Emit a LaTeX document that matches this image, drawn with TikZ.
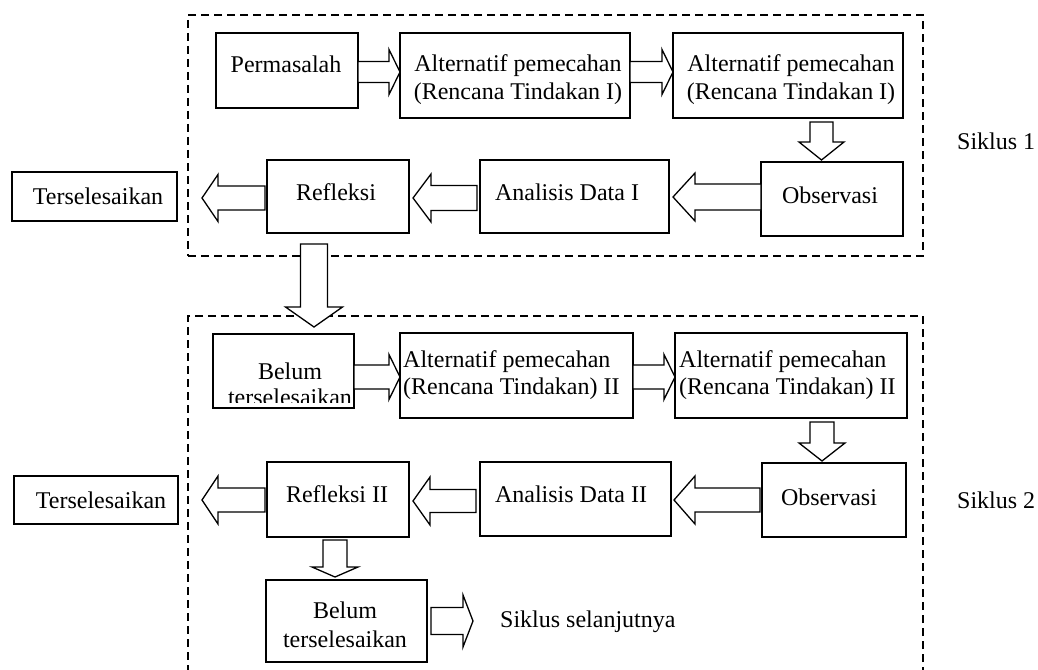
\documentclass[tikz,border=0pt]{standalone}
\usepackage{fontspec}
\setmainfont{Liberation Serif}
\usetikzlibrary{calc,fit}
\tikzset{
  box/.style={draw, line width=1.4pt, rectangle, inner sep=0pt, outer sep=0pt},
  dashbox/.style={draw, line width=1.3pt, dash pattern=on 8pt off 5pt, rectangle, inner sep=0pt},
  txt/.style={inner sep=0pt, font=\fontsize{24}{28}\selectfont},
  blockarr/.style={draw, line width=1.3pt, fill=white, line join=miter},
}
% #1 start, #2 tip, #3 shaft half width, #4 head half width, #5 head length
\newcommand\barrow[5]{%
  \path #1 coordinate (ba-s) #2 coordinate (ba-e);
  \coordinate (ba-h) at ($(ba-e)!#5!(ba-s)$);
  \draw[blockarr] ($(ba-s)!#3!90:(ba-e)$) -- ($(ba-h)!#3!-90:(ba-s)$) -- ($(ba-h)!#4!-90:(ba-s)$) -- (ba-e) -- ($(ba-h)!#4!90:(ba-s)$) -- ($(ba-h)!#3!90:(ba-s)$) -- ($(ba-s)!#3!-90:(ba-e)$) -- cycle;}
\begin{document}
\begin{tikzpicture}[x=1pt,y=-1pt]
\useasboundingbox (0,0) rectangle (1038,669);
\clip (0,0) rectangle (1038,669);
\fill[white] (0,0) rectangle (1038,669);
% cycle frames
\node[dashbox, fit={(188,15) (923,256)}] (cyc1) {};
\node[dashbox, fit={(188,316) (923,720)}] (cyc2) {};
% cycle 1 boxes
\node[box, fit={(216,33) (358,108)}] (perm) {};
\node[box, fit={(400,33) (630,118)}] (alt1) {};
\node[box, fit={(673,33) (903,118)}] (alt2) {};
\node[box, fit={(761,162) (903,236)}] (obs1) {};
\node[box, fit={(480,160) (669,233)}] (ana1) {};
\node[box, fit={(267,160) (409,233)}] (ref1) {};
\node[box, fit={(12,172) (177,221)}] (ters1) {};
% cycle 2 boxes
\node[box, fit={(213,334) (354,408)}] (belum1) {};
\node[box, fit={(400,333) (633,418)}] (alt1b) {};
\node[box, fit={(675,333) (907,418)}] (alt2b) {};
\node[box, fit={(762,463) (906,537)}] (obs2) {};
\node[box, fit={(480,462) (671,536)}] (ana2) {};
\node[box, fit={(267,462) (409,537)}] (ref2) {};
\node[box, fit={(14,476) (178,524)}] (ters2) {};
\node[box, fit={(266,580) (427,662)}] (belum2) {};
\coordinate (nextc) at (473,621);
% arrows cycle 1
\barrow{($(perm.east)+(0,1.5)$)}{($(alt1.west)+(0,-3.5)$)}{10.5pt}{22.5pt}{11pt}
\barrow{($(alt1.east)+(0,-3.5)$)}{($(alt2.west)+(0,-3.5)$)}{10.5pt}{22.5pt}{11pt}
\barrow{($(alt2.south)+(33.5,4)$)}{($(obs1.north)+(-10.5,-2)$)}{11.5pt}{22.5pt}{18pt}
\barrow{($(obs1.west)+(0,-2)$)}{($(ana1.east)+(4,0.5)$)}{13pt}{24pt}{22pt}
\barrow{($(ana1.west)+(-3,1.5)$)}{($(ref1.east)+(4,1.5)$)}{12.5pt}{24pt}{18pt}
\barrow{($(ref1.west)+(-2,1.5)$)}{($(ters1.east)+(25,1.5)$)}{12pt}{23.5pt}{16pt}
\barrow{($(ref1.south)+(-24,11)$)}{($(belum1.north)+(30.5,-7)$)}{13.5pt}{28.5pt}{20pt}
% arrows cycle 2
\barrow{($(belum1.east)+(0,6)$)}{($(alt1b.west)+(0,1.5)$)}{12pt}{22.5pt}{11pt}
\barrow{($(alt1b.east)+(0,1.5)$)}{($(alt2b.west)+(0,1.5)$)}{12pt}{22.5pt}{11pt}
\barrow{($(alt2b.south)+(31,4)$)}{($(obs2.north)+(-12,-2)$)}{12pt}{23pt}{18pt}
\barrow{($(obs2.west)+(-2,0)$)}{($(ana2.east)+(3,1)$)}{12pt}{24pt}{21pt}
\barrow{($(ana2.west)+(-4,2)$)}{($(ref2.east)+(4,1.5)$)}{11.5pt}{24pt}{17pt}
\barrow{($(ref2.west)+(-2,0.5)$)}{($(ters2.east)+(24,0)$)}{12pt}{24pt}{16pt}
\barrow{($(ref2.south)+(-3,3)$)}{($(belum2.north)+(-11.5,-3)$)}{12pt}{23pt}{10pt}
\barrow{($(belum2.east)+(4,0)$)}{(nextc)}{13.5pt}{26pt}{10pt}
% texts cycle 1
\node[txt, anchor=base] (perm-t) at (286,73) {Permasalah};
\node[txt, align=center] (alt1-t) at (518,80) {Alternatif pemecahan\\(Rencana Tindakan I)};
\node[txt, align=center] (alt2-t) at (791,80) {Alternatif pemecahan\\(Rencana Tindakan I)};
\node[txt, anchor=base] (obs1-t) at (830,203) {Observasi};
\node[txt, anchor=base] (ana1-t) at (567,200) {Analisis Data I};
\node[txt, anchor=base] (ref1-t) at (336,200) {Refleksi};
\node[txt, anchor=base] (ters1-t) at (98,204) {Terselesaikan};
\node[txt, anchor=base west] (sik1) at (957,149) {Siklus 1};
% texts cycle 2
\begin{scope}
\clip (213,334) rectangle (354,402);
\node[txt, align=center, font=\fontsize{24}{26}\selectfont] (belum1-t) at (290,384) {Belum\\terselesaikan};
\end{scope}
\node[txt, align=left, anchor=west, font=\fontsize{24}{27}\selectfont] (alt1b-t) at (403,375.5) {Alternatif pemecahan\\(Rencana Tindakan) II};
\node[txt, align=left, anchor=west, font=\fontsize{24}{27}\selectfont] (alt2b-t) at (679,375.5) {Alternatif pemecahan\\(Rencana Tindakan) II};
\node[txt, anchor=base] (obs2-t) at (829,505) {Observasi};
\node[txt, anchor=base] (ana2-t) at (571,502) {Analisis Data II};
\node[txt, anchor=base] (ref2-t) at (337,502) {Refleksi II};
\node[txt, anchor=base] (ters2-t) at (101,508) {Terselesaikan};
\node[txt, anchor=base west] (sik2) at (957,508) {Siklus 2};
\node[txt, align=center, font=\fontsize{24}{29}\selectfont] (belum2-t) at (345,624.5) {Belum\\terselesaikan};
\node[txt, anchor=base west] (next-t) at (500,627) {Siklus selanjutnya};
\end{tikzpicture}
\end{document}
